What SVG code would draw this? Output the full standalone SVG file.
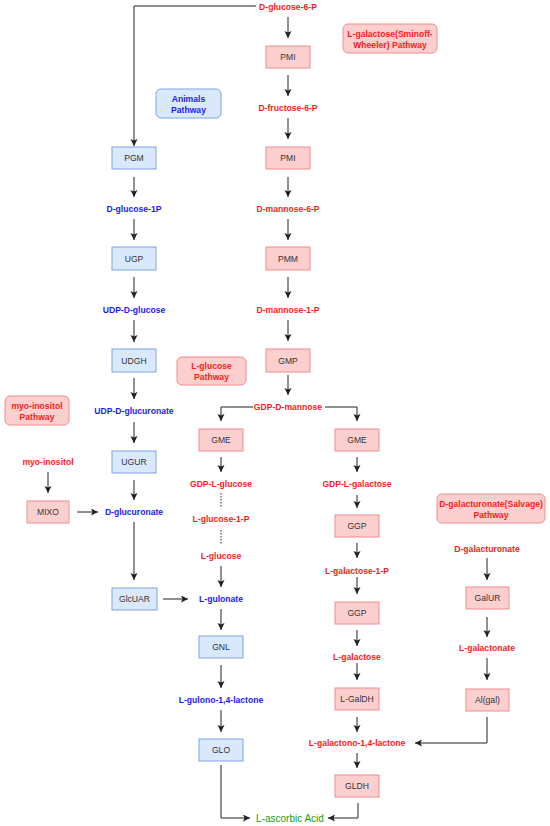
<svg xmlns="http://www.w3.org/2000/svg" width="550" height="826" viewBox="0 0 550 826">
<style>
text{font-family:"Liberation Sans",Arial,sans-serif;text-anchor:middle;dominant-baseline:central}
.lb{font-size:8.6px;font-weight:bold}
.r{fill:#ff1a1a}
.b{fill:#1a1aff}
.n{font-size:8.6px;fill:#333}
.rb{fill:#fccfcf;stroke:#f08c8c;stroke-width:1}
.bb{fill:#dae8fc;stroke:#7ea6e0;stroke-width:1}
.c path,.c line{fill:none;stroke:#222;stroke-width:1;marker-end:url(#ah)}
.c .dot{stroke-dasharray:1.5,1.5;marker-end:none}
</style>
<defs>
<marker id="ah" markerUnits="userSpaceOnUse" markerWidth="8" markerHeight="8" refX="7" refY="3.5" orient="auto">
<path d="M0,0 L7,3.5 L0,7 L1.5,3.5 z" fill="#222"/>
</marker>
</defs>
<rect width="550" height="826" fill="#fff"/>

<g class="c" id="connectors">
<path d="M256,6 H134 V146"/>
<line x1="288" y1="17" x2="288" y2="38"/>
<line x1="288" y1="75" x2="288" y2="96"/>
<line x1="288" y1="118" x2="288" y2="139"/>
<line x1="288" y1="177" x2="288" y2="197"/>
<line x1="288" y1="219" x2="288" y2="240"/>
<line x1="288" y1="277" x2="288" y2="298"/>
<line x1="288" y1="320" x2="288" y2="341"/>
<line x1="288" y1="375" x2="288" y2="395"/>
<line x1="134" y1="177" x2="134" y2="197"/>
<line x1="134" y1="219" x2="134" y2="240"/>
<line x1="134" y1="277" x2="134" y2="298"/>
<line x1="134" y1="320" x2="134" y2="342"/>
<line x1="134" y1="378" x2="134" y2="399"/>
<line x1="134" y1="422" x2="134" y2="443"/>
<line x1="134" y1="480" x2="134" y2="500"/>
<line x1="134" y1="522" x2="134" y2="580"/>
<line x1="48" y1="472" x2="48" y2="493"/>
<line x1="77" y1="512" x2="98" y2="512"/>
<path d="M253,407 H221 V421"/>
<path d="M325,407 H357 V421"/>
<line x1="221" y1="457" x2="221" y2="472"/>
<line class="dot" x1="221" y1="493" x2="221" y2="508"/>
<line class="dot" x1="221" y1="530" x2="221" y2="545"/>
<line x1="221" y1="566" x2="221" y2="587"/>
<line x1="163" y1="599" x2="188" y2="599"/>
<line x1="221" y1="609" x2="221" y2="630"/>
<line x1="221" y1="665" x2="221" y2="688"/>
<line x1="221" y1="710" x2="221" y2="732"/>
<path d="M221,765 V818 H250"/>
<line x1="357" y1="457" x2="357" y2="472"/>
<line x1="357" y1="495" x2="357" y2="508"/>
<line x1="357" y1="543" x2="357" y2="558"/>
<line x1="357" y1="577" x2="357" y2="594"/>
<line x1="357" y1="630" x2="357" y2="646"/>
<line x1="357" y1="663" x2="357" y2="680"/>
<line x1="357" y1="717" x2="357" y2="732"/>
<line x1="357" y1="753" x2="357" y2="768"/>
<path d="M358,803 V818 H328"/>
<line x1="487" y1="558" x2="487" y2="580"/>
<line x1="487" y1="617" x2="487" y2="637"/>
<line x1="487" y1="658" x2="487" y2="680"/>
<path d="M487,717 V743 H415"/>
</g>

<g id="t-dg6p"><text class="lb r" x="288" y="7">D-glucose-6-P</text></g>
<g id="t-df6p"><text class="lb r" x="288" y="108">D-fructose-6-P</text></g>
<g id="t-dm6p"><text class="lb r" x="288" y="209">D-mannose-6-P</text></g>
<g id="t-dm1p"><text class="lb r" x="288" y="310">D-mannose-1-P</text></g>
<g id="t-gdpdm"><text class="lb r" x="288" y="407">GDP-D-mannose</text></g>
<g id="t-dg1p"><text class="lb b" x="134" y="209">D-glucose-1P</text></g>
<g id="t-udpg"><text class="lb b" x="134" y="310">UDP-D-glucose</text></g>
<g id="t-udpgu"><text class="lb b" x="134" y="411">UDP-D-glucuronate</text></g>
<g id="t-dgu"><text class="lb b" x="134" y="512">D-glucuronate</text></g>
<g id="t-myo"><text class="lb r" x="48" y="462">myo-inositol</text></g>
<g id="t-gdplg"><text class="lb r" x="221" y="484">GDP-L-glucose</text></g>
<g id="t-lg1p"><text class="lb r" x="221" y="519">L-glucose-1-P</text></g>
<g id="t-lg"><text class="lb r" x="221" y="556">L-glucose</text></g>
<g id="t-lgul"><text class="lb b" x="221" y="599">L-gulonate</text></g>
<g id="t-lgl"><text class="lb b" x="221" y="700">L-gulono-1,4-lactone</text></g>
<g id="t-gdplgal"><text class="lb r" x="357" y="484">GDP-L-galactose</text></g>
<g id="t-lgal1p"><text class="lb r" x="357" y="571">L-galactose-1-P</text></g>
<g id="t-lgal"><text class="lb r" x="357" y="657">L-galactose</text></g>
<g id="t-lgall"><text class="lb r" x="357" y="743">L-galactono-1,4-lactone</text></g>
<g id="t-dgalu"><text class="lb r" x="487" y="549">D-galacturonate</text></g>
<g id="t-lgalo"><text class="lb r" x="487" y="648">L-galactonate</text></g>
<g id="t-asc"><text x="290" y="818" style="font-size:10px;fill:#1a9a1a">L-ascorbic Acid</text></g>

<g id="p-animals"><rect class="bb" x="156" y="89" width="65" height="29" rx="5"/><text class="lb b" x="188.5" y="98.5">Animals</text><text class="lb b" x="188.5" y="109.5">Pathway</text></g>
<g id="p-smirnoff"><rect class="rb" x="343" y="24" width="94" height="29" rx="5"/><text class="lb r" x="390" y="33.5">L-galactose(Sminoff-</text><text class="lb r" x="390" y="44.5">Wheeler) Pathway</text></g>
<g id="p-lglucose"><rect class="rb" x="177" y="357" width="69" height="28" rx="5"/><text class="lb r" x="211.5" y="366">L-glucose</text><text class="lb r" x="211.5" y="377">Pathway</text></g>
<g id="p-myo"><rect class="rb" x="5" y="396" width="64" height="29" rx="5"/><text class="lb r" x="37" y="405.5">myo-inositol</text><text class="lb r" x="37" y="416.5">Pathway</text></g>
<g id="p-salvage"><rect class="rb" x="437" y="494" width="108" height="29" rx="5"/><text class="lb r" x="491" y="503.5">D-galacturonate(Salvage)</text><text class="lb r" x="491" y="514.5">Pathway</text></g>

<g id="n-pgm"><rect class="bb" x="112" y="147" width="44" height="22"/><text class="n" x="134" y="158">PGM</text></g>
<g id="n-ugp"><rect class="bb" x="112" y="247" width="44" height="23"/><text class="n" x="134" y="258.5">UGP</text></g>
<g id="n-udgh"><rect class="bb" x="112" y="349" width="44" height="23"/><text class="n" x="134" y="360.5">UDGH</text></g>
<g id="n-ugur"><rect class="bb" x="112" y="451" width="44" height="22"/><text class="n" x="134" y="462">UGUR</text></g>
<g id="n-glcuar"><rect class="bb" x="112" y="588" width="45" height="22"/><text class="n" x="134.5" y="599">GlcUAR</text></g>
<g id="n-gnl"><rect class="bb" x="199" y="636" width="44" height="22"/><text class="n" x="221" y="647">GNL</text></g>
<g id="n-glo"><rect class="bb" x="199" y="739" width="44" height="22"/><text class="n" x="221" y="750">GLO</text></g>

<g id="n-pmi1"><rect class="rb" x="266" y="46" width="44" height="22"/><text class="n" x="288" y="57">PMI</text></g>
<g id="n-pmi2"><rect class="rb" x="266" y="147" width="44" height="22"/><text class="n" x="288" y="158">PMI</text></g>
<g id="n-pmm"><rect class="rb" x="266" y="247" width="44" height="23"/><text class="n" x="288" y="258.5">PMM</text></g>
<g id="n-gmp"><rect class="rb" x="266" y="349" width="44" height="23"/><text class="n" x="288" y="360.5">GMP</text></g>
<g id="n-gme1"><rect class="rb" x="199" y="429" width="44" height="22"/><text class="n" x="221" y="440">GME</text></g>
<g id="n-gme2"><rect class="rb" x="335" y="429" width="44" height="22"/><text class="n" x="357" y="440">GME</text></g>
<g id="n-ggp1"><rect class="rb" x="335" y="515" width="44" height="22"/><text class="n" x="357" y="526">GGP</text></g>
<g id="n-ggp2"><rect class="rb" x="335" y="602" width="44" height="22"/><text class="n" x="357" y="613">GGP</text></g>
<g id="n-lgaldh"><rect class="rb" x="335" y="688" width="44" height="22"/><text class="n" x="357" y="699">L-GalDH</text></g>
<g id="n-gldh"><rect class="rb" x="335" y="775" width="44" height="22"/><text class="n" x="357" y="786">GLDH</text></g>
<g id="n-mixo"><rect class="rb" x="27" y="501" width="42" height="22"/><text class="n" x="48" y="512">MIXO</text></g>
<g id="n-galur"><rect class="rb" x="466" y="587" width="43" height="22"/><text class="n" x="487.5" y="598">GalUR</text></g>
<g id="n-algal"><rect class="rb" x="466" y="689" width="43" height="22"/><text class="n" x="487.5" y="700">Al(gal)</text></g>
</svg>
